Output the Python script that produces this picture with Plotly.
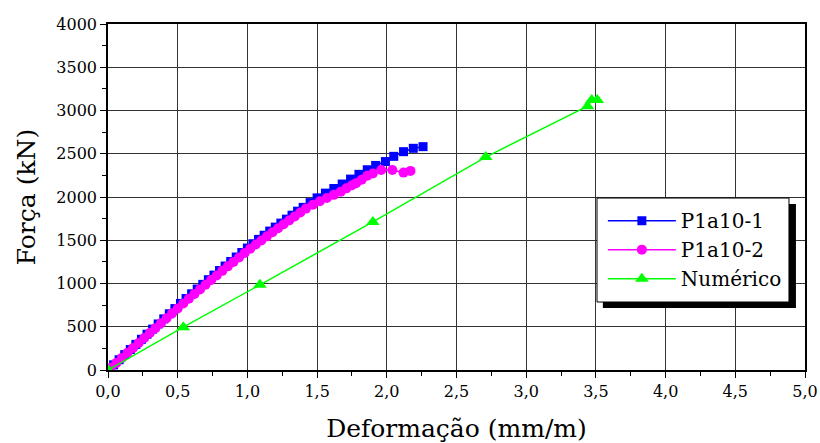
import plotly.graph_objects as go

# Strain (mm/m) and force (kN) for specimen P1a10-1
p1_x = [0.00, 0.04, 0.08, 0.12, 0.16, 0.20, 0.24, 0.28, 0.32, 0.36, 0.40, 0.44, 0.48,
        0.52, 0.56, 0.60, 0.64, 0.68, 0.72, 0.76, 0.80, 0.84, 0.88, 0.92, 0.96, 1.00,
        1.04, 1.08, 1.12, 1.16, 1.20, 1.24, 1.28, 1.32, 1.36, 1.40, 1.45, 1.50, 1.56,
        1.62, 1.68, 1.74, 1.80, 1.86, 1.92, 1.99, 2.05, 2.12, 2.19, 2.26]
p1_y = [0, 60, 119, 178, 237, 296, 355, 414, 473, 532, 591, 650, 710,
        770, 826, 881, 936, 990, 1044, 1097, 1150, 1202, 1254, 1306, 1358, 1410,
        1460, 1510, 1558, 1606, 1652, 1698, 1744, 1790, 1836, 1880, 1935, 1990, 2045,
        2098, 2150, 2207, 2262, 2315, 2365, 2410, 2470, 2524, 2563, 2582]

# Strain (mm/m) and force (kN) for specimen P1a10-2
p2_x = [0.00, 0.02, 0.06, 0.10, 0.14, 0.18, 0.22, 0.26, 0.30, 0.34, 0.38, 0.42, 0.46,
        0.50, 0.54, 0.58, 0.62, 0.66, 0.70, 0.74, 0.78, 0.82, 0.86, 0.90, 0.94, 0.98,
        1.02, 1.06, 1.10, 1.14, 1.18, 1.22, 1.26, 1.30, 1.34, 1.38, 1.42, 1.47, 1.52,
        1.57, 1.62, 1.67, 1.71, 1.75, 1.78, 1.82, 1.86, 1.90, 1.96, 2.04, 2.12, 2.17]
p2_y = [0, 25, 82, 140, 198, 255, 313, 370, 427, 484, 541, 598, 655,
        712, 768, 823, 878, 932, 986, 1040, 1093, 1146, 1198, 1250, 1301, 1352,
        1402, 1450, 1498, 1545, 1592, 1638, 1684, 1730, 1776, 1822, 1866, 1910, 1950,
        1988, 2025, 2062, 2100, 2135, 2160, 2200, 2245, 2272, 2312, 2312, 2282, 2302]

# Numerical model
num_x = [0.00, 0.54, 1.09, 1.90, 2.71, 3.44, 3.47, 3.51]
num_y = [0, 495, 985, 1712, 2462, 3050, 3120, 3120]

x_ticks = [0.0, 0.5, 1.0, 1.5, 2.0, 2.5, 3.0, 3.5, 4.0, 4.5, 5.0]
y_ticks = [0, 500, 1000, 1500, 2000, 2500, 3000, 3500, 4000]

FONT = "DejaVu Serif"

fig = go.Figure()
fig.add_trace(go.Scatter(
    x=p1_x, y=p1_y, name="P1a10-1", mode="lines+markers",
    line=dict(color="#0000FF", width=1.5),
    marker=dict(symbol="square", size=9, color="#0000FF"),
))
fig.add_trace(go.Scatter(
    x=p2_x, y=p2_y, name="P1a10-2", mode="lines+markers",
    line=dict(color="#FF00FF", width=1.5),
    marker=dict(symbol="circle", size=10, color="#FF00FF"),
))
fig.add_trace(go.Scatter(
    x=num_x, y=num_y, name="Numérico", mode="lines+markers",
    line=dict(color="#00FF00", width=1.5),
    marker=dict(symbol="triangle-up", size=12, color="#00FF00"),
))

# legend frame with a drop shadow (the legend itself is transparent)
fig.add_shape(type="rect", xref="paper", yref="paper",
              x0=0.710, x1=0.987, y0=0.179, y1=0.480,
              fillcolor="black", line=dict(width=0), layer="above")
fig.add_shape(type="rect", xref="paper", yref="paper",
              x0=0.7016, x1=0.977, y0=0.1965, y1=0.497,
              fillcolor="white", line=dict(color="black", width=1), layer="above")

fig.update_layout(
    template="none",
    width=820, height=443,
    margin=dict(l=108, r=15, t=24, b=73),
    paper_bgcolor="white", plot_bgcolor="white",
    separators=",.",
    font=dict(family=FONT, size=16, color="black"),
    showlegend=True,
    legend=dict(
        x=0.710, y=0.488, xanchor="left", yanchor="top",
        bgcolor="rgba(0,0,0,0)", borderwidth=0,
        font=dict(family=FONT, size=20, color="black"),
        itemwidth=68, tracegroupgap=0,
    ),
    xaxis=dict(
        range=[0, 5], tickvals=x_ticks, tickformat=".1f",
        tickfont=dict(family=FONT, size=16, color="black"),
        showline=True, linecolor="black", linewidth=1.5, mirror=True,
        showgrid=True, gridcolor="#333333", gridwidth=1,
        ticks="outside", ticklen=6, tickcolor="black",
        minor=dict(dtick=0.25, ticks="outside", ticklen=4, tickcolor="black", showgrid=False),
        zeroline=False,
        title=dict(text="Deformação (mm/m)", font=dict(family=FONT, size=25, color="black"), standoff=20),
    ),
    yaxis=dict(
        range=[0, 4000], tickvals=y_ticks, tickformat="d",
        tickfont=dict(family=FONT, size=16, color="black"),
        showline=True, linecolor="black", linewidth=1.5, mirror=True,
        showgrid=True, gridcolor="#333333", gridwidth=1,
        ticks="outside", ticklen=6, tickcolor="black",
        minor=dict(dtick=250, ticks="outside", ticklen=4, tickcolor="black", showgrid=False),
        zeroline=False,
        title=dict(text="Força (kN)", font=dict(family=FONT, size=25, color="black"), standoff=14),
    ),
)

fig.write_html("out.html")
